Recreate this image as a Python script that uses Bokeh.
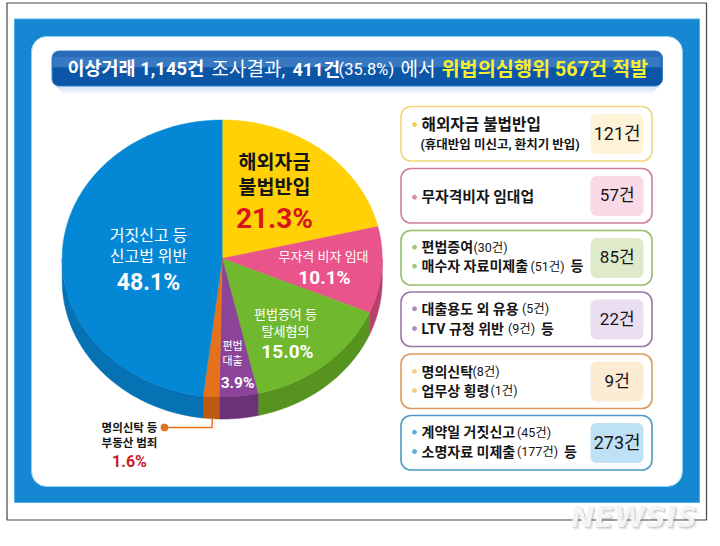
import numpy as np
from bokeh.plotting import figure
from bokeh.embed import file_html
from bokeh.resources import INLINE
from bokeh.core.properties import value

# ---------- data ----------
title_parts = ["이상거래 1,145건", "조사결과,", "411건", "(35.8%)", "에서", "위법의심행위 567건 적발"]
pie_names = ["해외자금 불법반입", "무자격 비자 임대", "편법증여 등 탈세혐의", "편법 대출", "명의신탁 등 부동산 범죄", "거짓신고 등 신고법 위반"]
pie_values = [21.3, 10.1, 15.0, 3.9, 1.6, 48.1]
pie_colors = ["#ffd106", "#e9558a", "#70b82e", "#8c4499", "#e5711b", "#0488d5"]
side_colors = ["#c9a405", "#b7416b", "#56941f", "#6c3277", "#bd5a12", "#0672b3"]
box_counts = ["121건", "57건", "85건", "22건", "9건", "273건"]
box_border = ["#f0d67a", "#cd7fa0", "#94bd6c", "#9b78a9", "#da9b5c", "#4c9bc6"]
box_chip = ["#fdf3d9", "#f9d9e6", "#dfeaca", "#eadff0", "#fcecd4", "#bee1f6"]
box_dot = ["#efd062", "#d98bab", "#a6c77e", "#a98eb9", "#f0cf82", "#5eb0dc"]

SANS = "Roboto, Noto Sans CJK KR"
p = figure(width=720, height=546, x_range=(0, 720), y_range=(546, 0),
           output_backend="svg", toolbar_location=None, min_border=0)
p.axis.visible = False
p.grid.visible = False
p.outline_line_color = None
p.background_fill_color = "white"
p.border_fill_color = "white"


def box(l, t, r, b, fill, line=None, lw=1, radius=0, **kw):
    p.quad(left=[l], right=[r], top=[t], bottom=[b], fill_color=fill,
           line_color=line, line_width=lw, border_radius=radius, **kw)


def txt(x, y, s, size, color="#111111", bold=True, align="left", alpha=1.0, font=SANS, style=None):
    p.text(x=[x], y=[y], text=[s], text_font=value(font), text_font_size=f"{size}px",
           text_color=color, text_alpha=alpha, text_align=align, text_baseline="middle",
           text_font_style=style or ("bold" if bold else "normal"))


# ---------- frame and panels ----------
box(6.5, 2.5, 706, 519.5, None, "#444444", 1.2)
box(14, 18.5, 699, 502, "#0b80cc", "#4fb3e6", 1,
    hatch_pattern="left_diagonal_line", hatch_color="#1f8ed6", hatch_scale=4, hatch_weight=1)
box(31, 36, 682, 486, "white", "#8fd0f0", 1, radius=15)

# title bar
for i, c in enumerate(["#cfe2f5", "#dde9f8", "#e9f1fb", "#f4f8fd"]):
    box(56 + i * 2, 85 + i * 2.2, 658 - i * 2, 87.2 + i * 2.2, c)
box(51.5, 50.5, 662, 85.5, "#0c56a8", "#3f86cc", 1, radius=7)
box(52.5, 51.5, 661, 56, "#2a6bb9", radius=(6, 6, 0, 0))
box(52.5, 56, 661, 67, "#3778c3")
box(52.5, 67, 661, 85, "#0c56a8", radius=(0, 0, 6, 6))
title_x = [67, 211, 292, 338, 400, 441]
title_size = [18.5, 19, 18, 16.5, 19, 19.7]
title_bold = [True, False, True, False, False, True]
title_col = ["white", "white", "white", "white", "white", "#f6ee2e"]
for x, s, fs, b, c in zip(title_x, title_parts, title_size, title_bold, title_col):
    txt(x, 68.5, s, fs, c, b)

# ---------- pie ----------
cx, cy, rx, ry, depth = 221.7, 258.0, 160.0, 138.5, 22.0
edges = np.cumsum([0.0] + pie_values) / sum(pie_values) * 2 * np.pi


def arc(a, b, n=90):
    return np.linspace(a, b, n)


for i in range(len(pie_values)):
    a, b = max(edges[i], np.pi / 2), min(edges[i + 1], 1.5 * np.pi)
    if b > a:
        t = arc(a, b)
        xs = cx + rx * np.sin(t)
        ys = cy - ry * np.cos(t)
        p.patch(np.r_[xs, xs[::-1]], np.r_[ys, ys[::-1] + depth],
                fill_color=side_colors[i], line_color=side_colors[i], line_width=0.6)
for i in range(len(pie_values)):
    t = arc(edges[i], edges[i + 1], 160)
    p.patch(np.r_[cx, cx + rx * np.sin(t)], np.r_[cy, cy - ry * np.cos(t)],
            fill_color=pie_colors[i], line_color=pie_colors[i], line_width=0.5)

# pie labels
txt(274, 162, "해외자금", 19.5, "#151515", True, "center")
txt(274, 187, "불법반입", 19.5, "#151515", True, "center")
txt(274, 218, f"{pie_values[0]}%", 28, "#d8141c", True, "center")
txt(323, 256, "무자격 비자 임대", 13, "white", False, "center")
txt(324, 277, f"{pie_values[1]}%", 19, "white", True, "center")
txt(285, 314, "편법증여 등", 13, "white", False, "center")
txt(285, 331, "탈세혐의", 13, "white", False, "center")
txt(287, 351, f"{pie_values[2]:.1f}%", 19, "white", True, "center")
txt(232, 346, "편법", 11, "white", False, "center")
txt(232, 361, "대출", 11, "white", False, "center")
txt(237, 382, f"{pie_values[3]}%", 15.5, "white", True, "center")
txt(148, 235, "거짓신고 등", 16, "white", False, "center")
txt(148, 256, "신고법 위반", 16, "white", False, "center")
txt(148, 282, f"{pie_values[5]}%", 23, "white", True, "center")
txt(129, 427, "명의신탁 등", 11.5, "#151515", True, "center")
txt(129, 442, "부동산 범죄", 11.5, "#151515", True, "center")
txt(129, 461, f"{pie_values[4]}%", 16, "#c8202a", True, "center")
p.line([164, 211.7, 211.7], [427, 427, 418], line_color="#e5711b", line_width=1.4)
p.scatter([164], [427], size=7, color="#e5711b")

# ---------- right boxes ----------
box_top = [106, 168, 230, 291.5, 353.5, 415]
box_lines = [
    [[("해외자금 불법반입", 421, 15.7, True)], [("(휴대반입 미신고, 환치기 반입)", 420, 12.5, True)]],
    [[("무자격비자 임대업", 421, 14.8, True)]],
    [[("편법증여", 421, 14, True), ("(30건)", 473, 12.5, False)],
     [("매수자 자료미제출", 421, 14, True), ("(51건)", 530, 12.5, False), ("등", 570, 14, True)]],
    [[("대출용도 외 유용", 421, 14, True), ("(5건)", 521.5, 12.5, False)],
     [("LTV 규정 위반", 421, 14, True), ("(9건)", 507.5, 12.5, False), ("등", 540.5, 14, True)]],
    [[("명의신탁", 421, 14, True), ("(8건)", 472, 12.5, False)],
     [("업무상 횡령", 421, 14, True), ("(1건)", 490, 12.5, False)]],
    [[("계약일 거짓신고", 421, 14, True), ("(45건)", 516.5, 12.5, False)],
     [("소명자료 미제출", 421, 14, True), ("(177건)", 516.5, 12.5, False), ("등", 563.5, 14, True)]],
]
line_y = [[124, 144], [196.7], [246.7, 265.7], [308.3, 328], [371, 390], [431.7, 451]]
bullet_rows = [[0], [0], [0, 1], [0, 1], [0, 1], [0, 1]]
for i, top in enumerate(box_top):
    box(400.5, top, 651.5, top + 54.5, "white", box_border[i], 1.6, radius=10)
    box(590, top + 7.5, 643, top + 47.5, box_chip[i], radius=6)
    txt(616.7, top + 26.5, box_counts[i], 18 if i in (0, 5) else 17, "#151515", False, "center")
    for row in bullet_rows[i]:
        p.scatter([414], [line_y[i][row]], size=4, color=box_dot[i])
    for row, segs in enumerate(box_lines[i]):
        for s, x, fs, b in segs:
            txt(x, line_y[i][row], s, fs, "#151515", b)

# ---------- watermark ----------
WM = "DejaVu Sans"
for dx, dy, a in [(2, 2, 0.10), (1, 1, 0.18), (3, 3, 0.06)]:
    txt(570 + dx, 517 + dy, "NEWSIS", 28.5, "#555555", True, "left", a, WM, "bold italic")
txt(570, 517, "NEWSIS", 28.5, "#f4f4f4", True, "left", 1.0, WM, "bold italic")

open("out.html", "w").write(file_html(p, INLINE))
